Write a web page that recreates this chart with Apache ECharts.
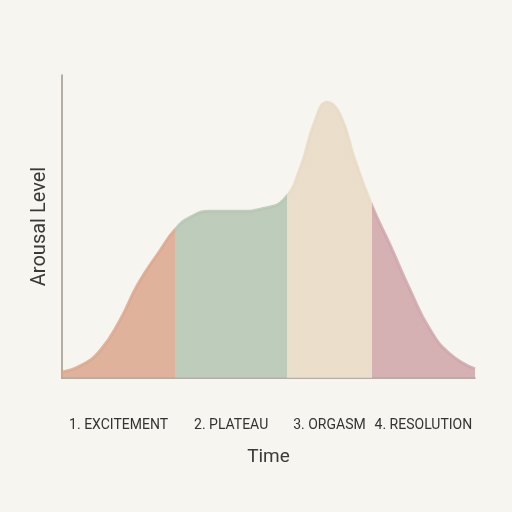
<!DOCTYPE html>
<html><head><meta charset="utf-8">
<script src="https://cdn.jsdelivr.net/npm/echarts@6/dist/echarts.min.js"></script>
<style>html,body{margin:0;background:#f7f5f0}#c{width:512px;height:512px}</style>
</head><body><div id="c"></div>
<script>
// curve points: time (0-100), arousal (0-100)
var timeVals = [0, 4.4, 9.2, 14, 18.4, 23.7, 27.4, 31, 35.8, 43, 49, 53.8, 57.6, 61.3, 64.2, 67.3, 70.9, 75, 79.4, 84.3, 89.1, 93.9, 100];
var arousal  = [2, 4, 9, 19, 31, 42, 49, 53, 55, 55, 56, 59, 69, 85, 91, 87, 72, 57, 44, 29, 16, 8, 3];
var phaseNames = ['1. EXCITEMENT', '2. PLATEAU', '3. ORGASM', '4. RESOLUTION'];
var phaseEdges = [0, 27.4, 54.5, 75, 100];
var phaseColors = ['#dba68c', '#b3c5b1', '#e8dac4', '#cfa4a9'];

var chart = document.getElementById('c');
var myChart = echarts.init(chart);
var font = '"Liberation Sans Narrow", "Roboto", sans-serif';

var pieces = [], areas = [];
for (var i = 0; i < phaseNames.length; i++) {
  pieces.push({ gte: phaseEdges[i], lt: phaseEdges[i + 1] + (i == 3 ? 1 : 0), color: phaseColors[i] });
  areas.push([{ xAxis: phaseEdges[i], name: phaseNames[i] }, { xAxis: phaseEdges[i + 1] }]);
}

option = {
  backgroundColor: '#f7f5f0',
  grid: { left: 62, right: 37, top: 75, bottom: 134 },
  xAxis: {
    type: 'value', min: 0, max: 100,
    name: 'Time', nameLocation: 'middle', nameGap: 70,
    nameTextStyle: { fontSize: 19, color: '#3a3a3a', fontFamily: font },
    axisLine: { lineStyle: { color: '#9c968c', width: 1.5 } },
    axisTick: { show: false }, axisLabel: { show: false }, splitLine: { show: false }
  },
  yAxis: {
    type: 'value', min: 0, max: 100,
    name: 'Arousal Level', nameLocation: 'middle', nameGap: 12,
    nameTextStyle: { fontSize: 20, color: '#3a3a3a', fontFamily: font },
    axisLine: { show: true, lineStyle: { color: '#9c968c', width: 1.5 } },
    axisTick: { show: false }, axisLabel: { show: false }, splitLine: { show: false }
  },
  visualMap: { show: false, dimension: 0, pieces: pieces },
  series: [{
    type: 'line', smooth: 0.5, symbol: 'none',
    data: timeVals.map(function (t, i) { return [t, arousal[i]]; }),
    lineStyle: { width: 3, opacity: 0.8 },
    areaStyle: { opacity: 0.85 },
    markArea: {
      silent: true,
      itemStyle: { color: 'rgba(0,0,0,0)' },
      label: { position: 'bottom', distance: 40, fontSize: 14, color: '#333', fontFamily: font },
      data: areas
    }
  }]
};

myChart.setOption(option);
</script></body></html>
